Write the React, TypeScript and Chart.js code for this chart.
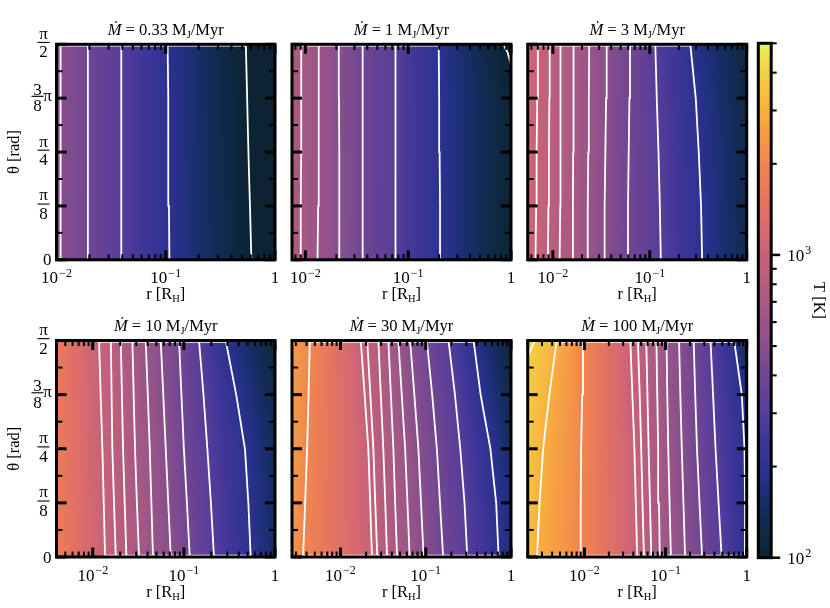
import React, { useEffect, useRef } from 'react';
import { Chart, registerables } from 'chart.js';

Chart.register(...registerables);

const W = 830;
const H = 608;
const SERIF = '"Liberation Serif", "DejaVu Serif", serif';

// ---------------- data ----------------
const MDOT = ['0.33', '1', '3', '10', '30', '100'];
const R_MIN = [0.01, 0.0074, 0.0055, 0.004, 0.0027, 0.002];
const R_MAX = 1;

// polar angles at which the contour radii were read (0 ... pi/2)
const THETA = [0, Math.PI / 8, Math.PI / 4, (3 * Math.PI) / 8, Math.PI / 2];

// colour bar range [K]
const T_MIN = 100;
const T_MAX = 5000;
const CB_TICKS = [100, 200, 300, 400, 500, 600, 700, 800, 900, 1000, 2000, 3000, 4000, 5000];
const CB_LABELS = [100, 1000];

// y tick labels (fractions of pi), one per THETA entry
const Y_NUM = ['0', 'π', 'π', '3', 'π'];
const Y_DEN = ['', '8', '4', '8', '2'];
const Y_SUFFIX = ['', '', '', 'π', ''];

// panel 1: Mdot = 0.33
const LEVELS_1 = [500, 400, 300, 200, 100];
const RADII_1 = [
  [0.0108, 0.0109, 0.0109, 0.0109, 0.0109],
  [0.0191, 0.0193, 0.0194, 0.0194, 0.0194],
  [0.039, 0.0391, 0.0392, 0.0392, 0.0392],
  [0.108, 0.107, 0.106, 0.105, 0.104],
  [0.608, 0.59, 0.571, 0.556, 0.541],
];
const LEFT_T_1 = [530, 530, 530, 530, 530];
const RIGHT_T_1 = [80, 80, 80, 80, 80];

// panel 2: Mdot = 1
const LEVELS_2 = [700, 600, 500, 400, 300, 200];
const RADII_2 = [
  [0.0089, 0.009, 0.0091, 0.0091, 0.0091],
  [0.0131, 0.0133, 0.0134, 0.0135, 0.0135],
  [0.0216, 0.0214, 0.0213, 0.0212, 0.0211],
  [0.0357, 0.0359, 0.036, 0.0361, 0.0361],
  [0.0752, 0.0752, 0.0752, 0.0752, 0.0752],
  [0.206, 0.204, 0.202, 0.2, 0.198],
];
const LEFT_T_2 = [770, 765, 760, 760, 760];
const RIGHT_T_2 = [102, 102, 103, 104, 94];
const CORNER_2_R = [0.845, 0.93, 1.0];
const CORNER_2_THETA = [1.571, 1.508, 1.421];

// panel 3: Mdot = 3
const LEVELS_3 = [1000, 900, 800, 700, 600, 500, 400, 300, 200];
const RADII_3 = [
  [0.00662, 0.00672, 0.0068, 0.0069, 0.007],
  [0.00889, 0.009, 0.0091, 0.0092, 0.00927],
  [0.01175, 0.0119, 0.0119, 0.012, 0.01205],
  [0.0159, 0.0161, 0.0162, 0.0163, 0.0164],
  [0.0226, 0.0229, 0.0232, 0.0235, 0.0237],
  [0.0337, 0.0342, 0.0348, 0.0354, 0.0359],
  [0.0586, 0.0596, 0.0606, 0.0616, 0.0625],
  [0.13, 0.127, 0.123, 0.118, 0.114],
  [0.347, 0.338, 0.32, 0.298, 0.262],
];
const LEFT_T_3 = [1140, 1130, 1120, 1110, 1100];
const RIGHT_T_3 = [128, 126, 124, 120, 112];

// panel 4: Mdot = 10
const LEVELS_4 = [1000, 900, 800, 700, 600, 500, 400, 300, 200];
const RADII_4 = [
  [0.01365, 0.0132, 0.01276, 0.0122, 0.01172],
  [0.0179, 0.0171, 0.0164, 0.0161, 0.0158],
  [0.0234, 0.0224, 0.0215, 0.0209, 0.0203],
  [0.0322, 0.0305, 0.0291, 0.0281, 0.0272],
  [0.0458, 0.044, 0.0422, 0.0402, 0.0381],
  [0.0718, 0.0674, 0.0632, 0.0594, 0.0557],
  [0.116, 0.108, 0.1, 0.094, 0.0885],
  [0.214, 0.198, 0.181, 0.164, 0.1466],
  [0.541, 0.51, 0.468, 0.375, 0.288],
];
const LEFT_T_4 = [1780, 1750, 1720, 1690, 1660];
const RIGHT_T_4 = [150, 146, 138, 125, 108];

// panel 5: Mdot = 30
const LEVELS_5 = [2000, 1000, 900, 800, 700, 600, 500, 400, 300, 200];
const RADII_5 = [
  [0.00364, 0.00385, 0.00406, 0.00422, 0.00437],
  [0.0234, 0.0223, 0.0212, 0.0192, 0.0173],
  [0.027, 0.0256, 0.0243, 0.0224, 0.0206],
  [0.0352, 0.0335, 0.0318, 0.0297, 0.0278],
  [0.0461, 0.0438, 0.0417, 0.039, 0.0364],
  [0.0647, 0.061, 0.0573, 0.0523, 0.0477],
  [0.0945, 0.088, 0.082, 0.0735, 0.0656],
  [0.16, 0.147, 0.135, 0.119, 0.103],
  [0.307, 0.285, 0.254, 0.22, 0.185],
  [0.716, 0.67, 0.573, 0.44, 0.364],
];
const LEFT_T_5 = [2330, 2380, 2430, 2480, 2530];
const RIGHT_T_5 = [170, 165, 148, 128, 110];

// panel 6: Mdot = 100
const LEVELS_6 = [3000, 2000, 1000, 900, 800, 700, 600, 500, 400, 300, 200];
const RADII_6 = [
  [0.0026, 0.0028, 0.0031, 0.0037, 0.00456],
  [0.0089, 0.009, 0.0091, 0.0094, 0.0096],
  [0.0447, 0.043, 0.0413, 0.039, 0.0368],
  [0.0542, 0.052, 0.0501, 0.048, 0.0456],
  [0.0668, 0.0642, 0.0618, 0.0598, 0.0578],
  [0.0849, 0.083, 0.0811, 0.079, 0.0771],
  [0.1164, 0.112, 0.108, 0.105, 0.1028],
  [0.174, 0.166, 0.1585, 0.152, 0.1466],
  [0.282, 0.262, 0.244, 0.232, 0.222],
  [0.491, 0.45, 0.413, 0.385, 0.358],
  [0.95, 0.955, 0.94, 0.87, 0.7],
];
const LEFT_T_6 = [3470, 3600, 3750, 3850, 4150];
const RIGHT_T_6 = [195, 194, 190, 170, 130];
const CORNER_6_R = [0.002, 0.00222, 0.00244];
const CORNER_6_THETA = [1.451, 1.515, 1.571];

// ---------------- style ----------------
// thermal-like colour map, position along log(T) range -> colour
const CMAP_POS = [0, 0.024, 0.067, 0.104, 0.136, 0.177, 0.234, 0.281, 0.354, 0.412, 0.458, 0.497, 0.532, 0.589, 0.636, 0.692, 0.766, 0.823, 0.869, 0.943, 1];
const CMAP_HEX = ['#0b2333', '#0d2739', '#112a50', '#172d66', '#1f2f7d', '#2c3290', '#403699', '#563d99', '#714593', '#884f8c', '#9a5488', '#a85984', '#b45c80', '#c86279', '#d76970', '#e5745f', '#f0864f', '#f69c44', '#f8b03e', '#f3d045', '#e8f35b'];

const COL_LEFT = [56.5, 292, 527.7];
const COL_RIGHT = [275, 511, 746.7];
const ROW_TOP = [44.3, 340.5];
const ROW_BOTTOM = [259.8, 557];
const CB_BOX = { left: 758.3, right: 771.2, top: 43.3, bottom: 557.7 };

const F_TICK = `17px ${SERIF}`;
const F_SUP = `12px ${SERIF}`;
const F_TEXT = `16.5px ${SERIF}`;
const F_SUB = `10.5px ${SERIF}`;

type Panel = {
  mdot: string;
  rMin: number;
  levels: number[];
  radii: number[][];
  leftT: number[];
  rightT: number[];
  cornerR?: number[];
  cornerTheta?: number[];
};

const PANELS: Panel[] = [
  { mdot: MDOT[0], rMin: R_MIN[0], levels: LEVELS_1, radii: RADII_1, leftT: LEFT_T_1, rightT: RIGHT_T_1 },
  { mdot: MDOT[1], rMin: R_MIN[1], levels: LEVELS_2, radii: RADII_2, leftT: LEFT_T_2, rightT: RIGHT_T_2, cornerR: CORNER_2_R, cornerTheta: CORNER_2_THETA },
  { mdot: MDOT[2], rMin: R_MIN[2], levels: LEVELS_3, radii: RADII_3, leftT: LEFT_T_3, rightT: RIGHT_T_3 },
  { mdot: MDOT[3], rMin: R_MIN[3], levels: LEVELS_4, radii: RADII_4, leftT: LEFT_T_4, rightT: RIGHT_T_4 },
  { mdot: MDOT[4], rMin: R_MIN[4], levels: LEVELS_5, radii: RADII_5, leftT: LEFT_T_5, rightT: RIGHT_T_5 },
  { mdot: MDOT[5], rMin: R_MIN[5], levels: LEVELS_6, radii: RADII_6, leftT: LEFT_T_6, rightT: RIGHT_T_6, cornerR: CORNER_6_R, cornerTheta: CORNER_6_THETA },
];

const hexToRgb = (h: string) => [1, 3, 5].map((i) => parseInt(h.slice(i, i + 2), 16));
const CMAP_RGB = CMAP_HEX.map(hexToRgb);

function cmap(T: number): string {
  let f = Math.log10(T / T_MIN) / Math.log10(T_MAX / T_MIN);
  f = Math.max(0, Math.min(1, f));
  let i = 0;
  while (i < CMAP_POS.length - 2 && f > CMAP_POS[i + 1]) i++;
  const t = (f - CMAP_POS[i]) / (CMAP_POS[i + 1] - CMAP_POS[i]);
  const a = CMAP_RGB[i];
  const b = CMAP_RGB[i + 1];
  return `rgb(${a.map((v, k) => Math.round(v + (b[k] - v) * t)).join(',')})`;
}

// value at angle th, read between the THETA samples (log space)
function atTheta(vals: number[], th: number): number {
  let j = 0;
  while (j < THETA.length - 2 && th > THETA[j + 1]) j++;
  const t = Math.max(0, Math.min(1, (th - THETA[j]) / (THETA[j + 1] - THETA[j])));
  const a = Math.log10(vals[j]);
  const b = Math.log10(vals[j + 1]);
  return Math.pow(10, a + (b - a) * t);
}

function line(ctx: CanvasRenderingContext2D, x0: number, y0: number, x1: number, y1: number) {
  ctx.beginPath();
  ctx.moveTo(x0, y0);
  ctx.lineTo(x1, y1);
  ctx.stroke();
}

type Run = { t: string; f: string; dy?: number };

function drawRuns(ctx: CanvasRenderingContext2D, runs: Run[], cx: number, baseline: number) {
  let w = 0;
  runs.forEach((r) => {
    ctx.font = r.f;
    w += ctx.measureText(r.t).width;
  });
  let x = cx - w / 2;
  ctx.textAlign = 'left';
  ctx.textBaseline = 'alphabetic';
  runs.forEach((r) => {
    ctx.font = r.f;
    ctx.fillText(r.t, x, baseline + (r.dy || 0));
    x += ctx.measureText(r.t).width;
  });
}

function drawPow(ctx: CanvasRenderingContext2D, px: number, baseline: number, e: number, align: 'center' | 'left') {
  ctx.textBaseline = 'alphabetic';
  if (e === 0) {
    ctx.font = F_TICK;
    ctx.textAlign = align;
    ctx.fillText('1', px, baseline);
    return;
  }
  const sup = e < 0 ? `−${-e}` : `${e}`;
  ctx.font = F_TICK;
  const w1 = ctx.measureText('10').width;
  ctx.font = F_SUP;
  const w2 = ctx.measureText(sup).width;
  const x0 = align === 'center' ? px - (w1 + w2 + 1) / 2 : px;
  ctx.textAlign = 'left';
  ctx.font = F_TICK;
  ctx.fillText('10', x0, baseline);
  ctx.font = F_SUP;
  ctx.fillText(sup, x0 + w1 + 1, baseline - 6.5);
}

const backgroundPlugin = (p: Panel) => ({
  id: 'tempField',
  beforeDatasetsDraw(chart: any) {
    const { ctx, chartArea: a } = chart;
    const xs = chart.scales.x;
    const ys = chart.scales.y;
    const width = a.right - a.left;
    ctx.save();
    for (let py = Math.floor(a.top); py < Math.ceil(a.bottom); py++) {
      const th = Math.max(0, Math.min(Math.PI / 2, ys.getValueForPixel(py + 0.5)));
      const stops: [number, number][] = [[a.left, Math.log10(atTheta(p.leftT, th))]];
      p.levels.forEach((lv, i) => {
        stops.push([xs.getPixelForValue(atTheta(p.radii[i], th)), Math.log10(lv)]);
      });
      stops.push([a.right, Math.log10(atTheta(p.rightT, th))]);
      const g = ctx.createLinearGradient(a.left, 0, a.right, 0);
      for (let k = 0; k < stops.length - 1; k++) {
        const [x0, t0] = stops[k];
        const [x1, t1] = stops[k + 1];
        for (let s = 0; s < 4; s++) {
          const u = s / 4;
          const off = (x0 + (x1 - x0) * u - a.left) / width;
          if (off < 0 || off > 1) continue;
          g.addColorStop(off, cmap(Math.pow(10, t0 + (t1 - t0) * u)));
        }
      }
      g.addColorStop(1, cmap(Math.pow(10, stops[stops.length - 1][1])));
      ctx.fillStyle = g;
      ctx.fillRect(a.left, py, width, 1);
    }
    ctx.restore();
  },
});

const framePlugin = (p: Panel, idx: number) => ({
  id: 'frame',
  afterDraw(chart: any) {
    const { ctx, chartArea: a } = chart;
    const xs = chart.scales.x;
    const ys = chart.scales.y;
    const col = idx % 3;
    ctx.save();
    ctx.strokeStyle = '#000';
    ctx.fillStyle = '#000';
    ctx.lineCap = 'butt';

    // log r ticks, inward, top and bottom
    for (let e = -3; e <= 0; e++) {
      for (let k = 1; k <= 9; k++) {
        const v = k * Math.pow(10, e);
        if (v < p.rMin * 0.999 || v > R_MAX * 1.001) continue;
        const px = xs.getPixelForValue(v);
        const major = k === 1;
        ctx.lineWidth = major ? 3 : 2;
        const len = major ? 9.5 : 5.5;
        line(ctx, px, a.bottom, px, a.bottom - len);
        line(ctx, px, a.top, px, a.top + len);
      }
    }
    // theta ticks every pi/16, inward, left and right
    for (let j = 0; j <= 8; j++) {
      const py = ys.getPixelForValue((j * Math.PI) / 16);
      const major = j % 2 === 0;
      ctx.lineWidth = major ? 3 : 2;
      const len = major ? 10 : 6;
      line(ctx, a.left, py, a.left + len, py);
      line(ctx, a.right, py, a.right - len, py);
    }
    ctx.lineWidth = 3;
    ctx.strokeRect(a.left, a.top, a.right - a.left, a.bottom - a.top);

    // x tick labels
    for (let e = -3; e <= 0; e++) {
      const v = Math.pow(10, e);
      if (v < p.rMin * 0.999 || v > R_MAX * 1.001) continue;
      drawPow(ctx, xs.getPixelForValue(v), a.bottom + 23.5, e, 'center');
    }
    const cx = (a.left + a.right) / 2;
    drawRuns(ctx, [
      { t: 'r [R', f: F_TEXT },
      { t: 'H', f: F_SUB, dy: 3 },
      { t: ']', f: F_TEXT },
    ], cx, a.bottom + 39.5);

    // title
    drawRuns(ctx, [
      { t: 'Ṁ', f: `italic ${F_TEXT}` },
      { t: ' = ', f: F_TEXT },
      { t: `${p.mdot} M`, f: F_TEXT },
      { t: 'J', f: F_SUB, dy: 3 },
      { t: '/Myr', f: F_TEXT },
    ], cx, a.top - 9.5);

    // theta tick labels and axis label, first column only
    if (col === 0) {
      THETA.forEach((th, j) => {
        const py = ys.getPixelForValue(th);
        ctx.font = F_TICK;
        ctx.textBaseline = 'alphabetic';
        if (!Y_DEN[j]) {
          ctx.textAlign = 'right';
          ctx.fillText(Y_NUM[j], a.left - 5, py + 5.5);
          return;
        }
        const withPi = Y_SUFFIX[j] !== '';
        const fx = withPi ? a.left - 19 : a.left - 13;
        ctx.textAlign = 'center';
        ctx.fillText(Y_NUM[j], fx, Y_NUM[j] === 'π' ? py - 5.5 : py - 3.5);
        ctx.fillText(Y_DEN[j], fx, py + 13);
        ctx.fillRect(fx - 6, py - 2.4, 12, 1.1);
        if (withPi) ctx.fillText(Y_SUFFIX[j], a.left - 9, py + 2.5);
      });
      ctx.save();
      ctx.translate(15, (a.top + a.bottom) / 2);
      ctx.rotate(-Math.PI / 2);
      ctx.font = F_TEXT;
      ctx.textAlign = 'center';
      ctx.textBaseline = 'middle';
      ctx.fillText('θ [rad]', 0, 0);
      ctx.restore();
    }
    ctx.restore();
  },
});

function panelConfig(p: Panel, idx: number): any {
  const col = idx % 3;
  const row = Math.floor(idx / 3);
  const contourSets = p.levels.map((lv, i) => ({
    label: `${lv} K`,
    data: THETA.map((th, j) => ({ x: p.radii[i][j], y: th })),
    showLine: true,
    borderColor: '#ffffff',
    borderWidth: 1.8,
    pointRadius: 0,
    fill: false,
  }));
  const last = p.radii.length - 1;
  const top = THETA.length - 1;
  const edgeSets: any[] = [
    {
      label: 'edge top',
      data: [
        { x: p.radii[0][top], y: THETA[top] },
        { x: p.radii[last][top], y: THETA[top] },
      ],
      showLine: true,
      borderColor: '#ffffff',
      borderWidth: 4.5,
      pointRadius: 0,
    },
  ];
  if (row === 1) {
    edgeSets.push({
      label: 'edge bottom',
      data: [
        { x: p.radii[0][0], y: THETA[0] },
        { x: p.radii[last][0], y: THETA[0] },
      ],
      showLine: true,
      borderColor: '#ffffff',
      borderWidth: 4.5,
      pointRadius: 0,
    });
  }
  if (p.cornerR && p.cornerTheta) {
    const th = p.cornerTheta;
    edgeSets.push({
      label: 'corner',
      data: p.cornerR.map((r, j) => ({ x: r, y: th[j] })),
      showLine: true,
      borderColor: '#ffffff',
      borderWidth: 1.8,
      pointRadius: 0,
    });
  }
  return {
    type: 'scatter',
    data: { datasets: [...contourSets, ...edgeSets] },
    options: {
      animation: false,
      responsive: false,
      events: [],
      layout: {
        padding: {
          left: COL_LEFT[col],
          right: W - COL_RIGHT[col],
          top: ROW_TOP[row],
          bottom: H - ROW_BOTTOM[row],
        },
      },
      scales: {
        x: { type: 'logarithmic', min: p.rMin, max: R_MAX, display: false },
        y: { type: 'linear', min: 0, max: Math.PI / 2, display: false },
      },
      plugins: { legend: { display: false }, tooltip: { enabled: false } },
    },
    plugins: [backgroundPlugin(p), framePlugin(p, idx)],
  };
}

const colorbarPlugin = {
  id: 'colorbar',
  beforeDatasetsDraw(chart: any) {
    const { ctx, chartArea: a } = chart;
    const ys = chart.scales.y;
    for (let py = Math.floor(a.top); py < Math.ceil(a.bottom); py++) {
      ctx.fillStyle = cmap(ys.getValueForPixel(py + 0.5));
      ctx.fillRect(a.left, py, a.right - a.left, 1);
    }
  },
  afterDraw(chart: any) {
    const { ctx, chartArea: a } = chart;
    const ys = chart.scales.y;
    ctx.save();
    ctx.strokeStyle = '#000';
    ctx.fillStyle = '#000';
    CB_TICKS.forEach((v) => {
      const py = ys.getPixelForValue(v);
      const major = CB_LABELS.includes(v);
      ctx.lineWidth = major ? 2.5 : 2;
      line(ctx, a.right, py, a.right + (major ? 9 : 5.5), py);
      if (major) drawPow(ctx, a.right + 16, py + 6, Math.round(Math.log10(v)), 'left');
    });
    ctx.lineWidth = 3;
    ctx.strokeRect(a.left, a.top, a.right - a.left, a.bottom - a.top);
    ctx.save();
    ctx.translate(818, (a.top + a.bottom) / 2);
    ctx.rotate(Math.PI / 2);
    ctx.font = F_TEXT;
    ctx.textAlign = 'center';
    ctx.textBaseline = 'middle';
    ctx.fillText('T [K]', 0, 0);
    ctx.restore();
    ctx.restore();
  },
};

function colorbarConfig(): any {
  return {
    type: 'scatter',
    data: { datasets: [] },
    options: {
      animation: false,
      responsive: false,
      events: [],
      layout: {
        padding: {
          left: CB_BOX.left,
          right: W - CB_BOX.right,
          top: CB_BOX.top,
          bottom: H - CB_BOX.bottom,
        },
      },
      scales: {
        x: { type: 'linear', min: 0, max: 1, display: false },
        y: { type: 'logarithmic', min: T_MIN, max: T_MAX, display: false },
      },
      plugins: { legend: { display: false }, tooltip: { enabled: false } },
    },
    plugins: [colorbarPlugin],
  };
}

export default function App() {
  const refs = useRef<(HTMLCanvasElement | null)[]>([]);

  useEffect(() => {
    const charts: Chart[] = [];
    PANELS.forEach((p, i) => {
      const c = refs.current[i];
      if (c) charts.push(new Chart(c, panelConfig(p, i)));
    });
    const cb = refs.current[PANELS.length];
    if (cb) charts.push(new Chart(cb, colorbarConfig()));
    return () => {
      charts.forEach((c) => c.destroy());
    };
  }, []);

  return (
    <div style={{ position: 'absolute', left: 0, top: 0, width: W, height: H, background: '#ffffff' }}>
      {Array.from({ length: PANELS.length + 1 }).map((_, i) => (
        <canvas
          key={i}
          ref={(el) => {
            refs.current[i] = el;
          }}
          width={W}
          height={H}
          style={{ position: 'absolute', left: 0, top: 0, width: W, height: H }}
        />
      ))}
    </div>
  );
}
